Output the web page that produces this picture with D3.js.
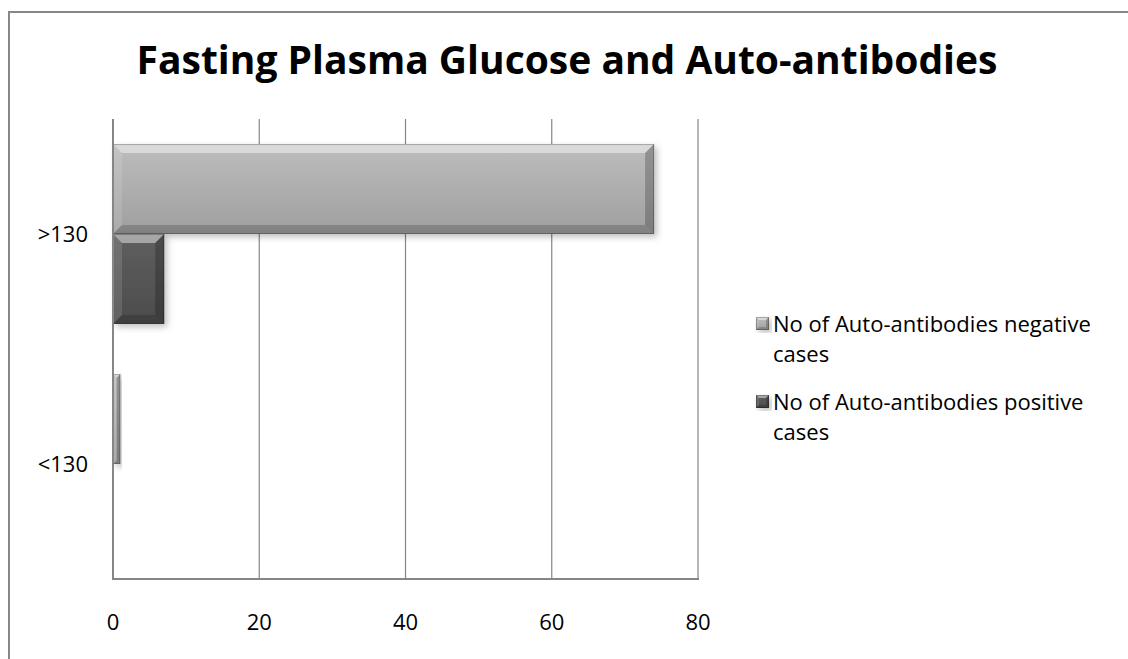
<!DOCTYPE html>
<html>
<head>
<meta charset="utf-8">
<script src="https://cdn.jsdelivr.net/npm/d3@7"></script>
<style>
  body { margin: 0; background: white; }
  text { font-family: "Open Sans", "Noto Sans", sans-serif; fill: #000; }
</style>
</head>
<body>
<div id="container"></div>
<script>
let w = 1128;
let h = 659;

// DATA
let categories = [">130", "<130"];
let negativeCases = [74, 1];
let positiveCases = [7, 0];
let seriesNames = ["No of Auto-antibodies negative cases", "No of Auto-antibodies positive cases"];
let legendLines = [["No of Auto-antibodies negative", "cases"], ["No of Auto-antibodies positive", "cases"]];
let xTicks = [0, 20, 40, 60, 80];

let plotLeft = 113, plotRight = 698, plotTop = 119, plotBottom = 579;

let viz = d3.select("#container").append("svg")
    .attr("width", w)
    .attr("height", h)
    .style("display", "block")
;

// outer chart frame (runs off the right and bottom edge)
viz.append("rect")
  .attr("x", 9).attr("y", 12)
  .attr("width", w + 20).attr("height", h + 20)
  .attr("fill", "white")
  .attr("stroke", "#878787")
  .attr("stroke-width", 2)
;

// SCALES
let xScale = d3.scaleLinear().domain([0, 80]).range([plotLeft, plotRight]);
let yScale = d3.scaleBand().domain(categories).range([plotTop, plotBottom]);
let groupPad = yScale.bandwidth() * 0.109;
let ySub = d3.scaleBand().domain(seriesNames).range([groupPad, yScale.bandwidth() - groupPad]);

let defs = viz.append("defs");
let gradNeg = defs.append("linearGradient").attr("id", "gradNeg")
  .attr("x1", "0%").attr("y1", "0%").attr("x2", "0%").attr("y2", "100%");
gradNeg.append("stop").attr("offset", "0%").style("stop-color", "#bdbdbd");
gradNeg.append("stop").attr("offset", "100%").style("stop-color", "#9f9f9f");
let gradPos = defs.append("linearGradient").attr("id", "gradPos")
  .attr("x1", "0%").attr("y1", "0%").attr("x2", "0%").attr("y2", "100%");
gradPos.append("stop").attr("offset", "0%").style("stop-color", "#5f5f5f");
gradPos.append("stop").attr("offset", "100%").style("stop-color", "#4c4c4c");

let shadow = defs.append("filter").attr("id", "shadow")
  .attr("x", "-10%").attr("y", "-10%").attr("width", "130%").attr("height", "130%");
shadow.append("feDropShadow")
  .attr("dx", 3).attr("dy", 3).attr("stdDeviation", 3)
  .attr("flood-color", "#000").attr("flood-opacity", 0.25);

let fills = ["url(#gradNeg)", "url(#gradPos)"];

// GRIDLINES
viz.selectAll(".grid").data(xTicks.slice(1)).enter()
  .append("line")
    .attr("class", "grid")
    .attr("x1", d => xScale(d)).attr("x2", d => xScale(d))
    .attr("y1", plotTop).attr("y2", plotBottom)
    .attr("stroke", "#868686")
    .attr("stroke-width", 1.2)
;

// bevelled bar helper
function bevelBar(g, x0, x1, y0, y1, fill, maxB) {
  let b = Math.min(maxB, (x1 - x0) / 2, (y1 - y0) / 2);
  let bar = g.append("g").attr("filter", "url(#shadow)");
  bar.append("rect")
    .attr("x", x0).attr("y", y0)
    .attr("width", x1 - x0).attr("height", y1 - y0)
    .attr("fill", fill);
  let faces = [
    {pts: [[x0, y0], [x1, y0], [x1 - b, y0 + b], [x0 + b, y0 + b]], c: "white", o: 0.45},
    {pts: [[x0, y0], [x0 + b, y0 + b], [x0 + b, y1 - b], [x0, y1]], c: "white", o: 0.12},
    {pts: [[x0, y1], [x1, y1], [x1 - b, y1 - b], [x0 + b, y1 - b]], c: "black", o: 0.18},
    {pts: [[x1, y0], [x1 - b, y0 + b], [x1 - b, y1 - b], [x1, y1]], c: "black", o: 0.22}
  ];
  bar.selectAll("polygon").data(faces).enter()
    .append("polygon")
      .attr("points", d => d.pts.map(p => p.join(",")).join(" "))
      .attr("fill", d => d.c)
      .attr("fill-opacity", d => d.o);
  bar.append("rect")
    .attr("x", x0 + 0.5).attr("y", y0 + 0.5)
    .attr("width", Math.max(0, x1 - x0 - 1)).attr("height", y1 - y0 - 1)
    .attr("fill", "none")
    .attr("stroke", "black").attr("stroke-opacity", 0.25);
}

// BARS
let barData = [];
categories.forEach(function(c, i) {
  barData.push({cat: c, s: 0, v: negativeCases[i]});
  barData.push({cat: c, s: 1, v: positiveCases[i]});
});
let barLayer = viz.append("g");
barData.forEach(function(d) {
  if (d.v <= 0) return;
  let y0 = yScale(d.cat) + ySub(seriesNames[d.s]);
  bevelBar(barLayer, xScale(0), xScale(d.v), y0, y0 + ySub.bandwidth(), fills[d.s], 9);
});

// AXES LINES
viz.append("line")
  .attr("x1", plotLeft).attr("x2", plotLeft)
  .attr("y1", plotTop).attr("y2", plotBottom + 1)
  .attr("stroke", "#868686").attr("stroke-width", 2);
viz.append("line")
  .attr("x1", plotLeft - 1).attr("x2", plotRight + 1)
  .attr("y1", plotBottom).attr("y2", plotBottom)
  .attr("stroke", "#868686").attr("stroke-width", 2);

// TICK LABELS
viz.selectAll(".xlabel").data(xTicks).enter()
  .append("text")
    .attr("class", "xlabel")
    .attr("x", d => xScale(d))
    .attr("y", 630)
    .attr("text-anchor", "middle")
    .style("font-size", "22px")
    .text(d => d)
;
viz.selectAll(".ylabel").data(categories).enter()
  .append("text")
    .attr("class", "ylabel")
    .attr("x", 88)
    .attr("y", d => yScale(d) + yScale.bandwidth() / 2)
    .attr("dy", "0.36em")
    .attr("text-anchor", "end")
    .style("font-size", "22px")
    .text(d => d)
;

// TITLE
let title = viz.append("text")
  .attr("x", 567)
  .attr("y", 74)
  .attr("text-anchor", "middle")
  .style("font-size", "40px")
  .style("font-weight", "bold")
  .text("Fasting Plasma Glucose and Auto-antibodies");
let tw = title.node().getComputedTextLength();
title.style("font-size", (40 * 861 / tw) + "px");

// LEGEND
let legendX = 773;
let legendY = [332, 410];
let legend = viz.selectAll(".legend").data(seriesNames).enter()
  .append("g")
    .attr("class", "legend");
legend.each(function(d, i) {
  let g = d3.select(this);
  bevelBar(g, legendX - 17, legendX - 4, legendY[i] - 15, legendY[i] - 2, fills[i], 3);
  let t = g.append("text")
    .attr("x", legendX)
    .attr("y", legendY[i])
    .style("font-size", "22px");
  t.selectAll("tspan").data(legendLines[i]).enter()
    .append("tspan")
      .attr("x", legendX)
      .attr("dy", (l, j) => j == 0 ? 0 : 30)
      .text(l => l);
});
// fit legend font to reference width of first line
let firstLine = viz.select(".legend tspan").node();
let lw = firstLine.getComputedTextLength();
let legendFont = 22 * 318 / lw;
viz.selectAll(".legend text").style("font-size", legendFont + "px");
</script>
</body>
</html>
